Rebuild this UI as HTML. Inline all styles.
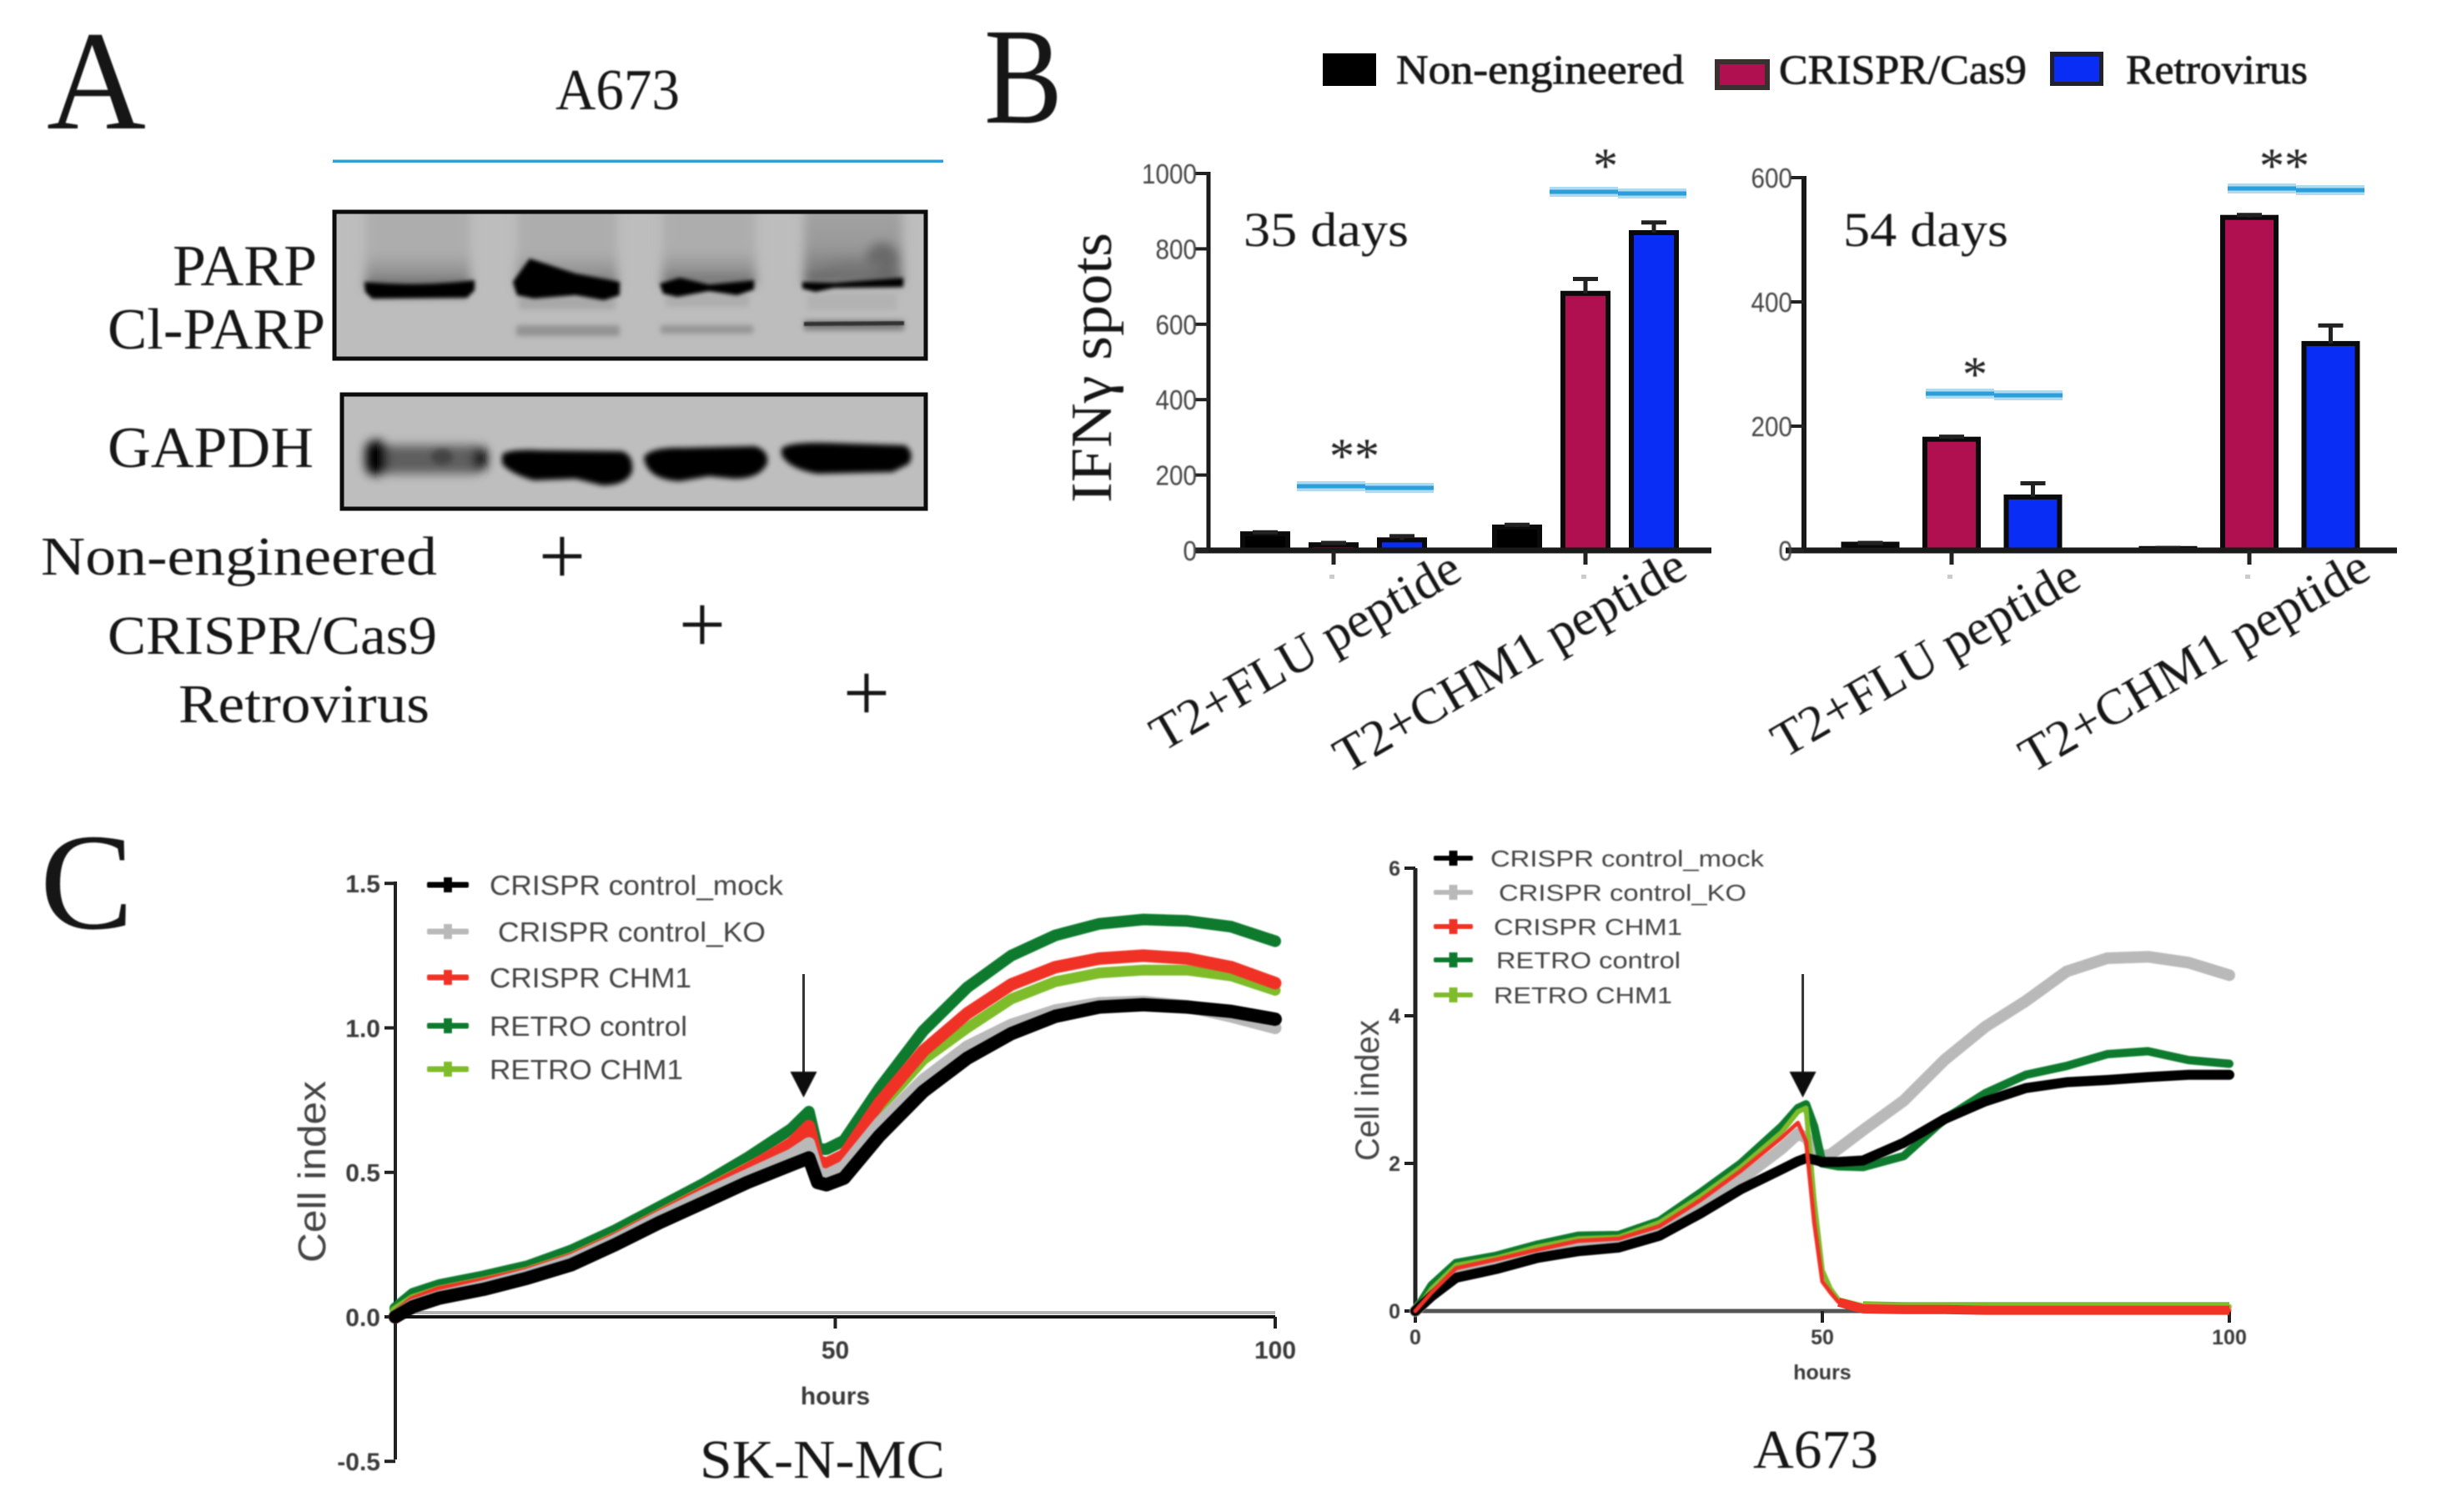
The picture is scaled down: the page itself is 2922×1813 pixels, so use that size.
<!DOCTYPE html>
<html lang="en">
<head>
<meta charset="utf-8">
<title>A673 and SK-N-MC figure</title>
<style>
html,body{margin:0;padding:0;background:#fff;width:2922px;height:1813px;overflow:hidden}
svg{display:block}
.serif{font-family:"Liberation Serif",serif;fill:#141414}
.heavy{stroke:#141414;stroke-width:0.8}
.sans{font-family:"Liberation Sans",sans-serif;fill:#333}
</style>
</head>
<body>
<svg id="figure" xmlns="http://www.w3.org/2000/svg" width="2922" height="1813" viewBox="0 0 2922 1813">
<defs>
<filter id="soft" x="-5%" y="-5%" width="110%" height="110%"><feGaussianBlur stdDeviation="0.9"/></filter>
<filter id="softer" x="-5%" y="-5%" width="110%" height="110%"><feGaussianBlur stdDeviation="1.3"/></filter>
<filter id="band" x="-10%" y="-40%" width="120%" height="180%"><feGaussianBlur stdDeviation="2.4"/></filter>
<filter id="blot" x="-20%" y="-40%" width="140%" height="180%"><feGaussianBlur stdDeviation="3.2"/></filter>
<filter id="blotWide" x="-30%" y="-30%" width="160%" height="160%"><feGaussianBlur stdDeviation="6"/></filter>
<linearGradient id="smear" x1="0" y1="0" x2="0" y2="1"><stop offset="0" stop-color="#adadad"/><stop offset="0.6" stop-color="#adadad"/><stop offset="0.85" stop-color="#8f8f8f"/><stop offset="1" stop-color="#5a5a5a"/></linearGradient>
<linearGradient id="smear4" x1="0" y1="0" x2="0" y2="1"><stop offset="0" stop-color="#a6a6a6"/><stop offset="0.55" stop-color="#999"/><stop offset="0.85" stop-color="#7c7c7c"/><stop offset="1" stop-color="#505050"/></linearGradient>
<clipPath id="parpClip"><rect x="401" y="254" width="709" height="176"/></clipPath>
<clipPath id="gapdhClip"><rect x="410" y="473" width="700" height="137"/></clipPath>
</defs>
<rect x="0" y="0" width="2922" height="1813" fill="#fff"/>

<g>
<g filter="url(#soft)">
<text class="serif" x="56" y="154" font-size="170" textLength="119" lengthAdjust="spacingAndGlyphs">A</text>
<text class="serif" x="666" y="131" font-size="70" textLength="149" lengthAdjust="spacingAndGlyphs">A673</text>
<text class="serif" x="207" y="342" font-size="70" textLength="173" lengthAdjust="spacingAndGlyphs">PARP</text>
<text class="serif" x="129" y="418" font-size="70" textLength="261" lengthAdjust="spacingAndGlyphs">Cl-PARP</text>
<text class="serif" x="129" y="560" font-size="70" textLength="247" lengthAdjust="spacingAndGlyphs">GAPDH</text>
<text class="serif" x="49" y="689" font-size="66" textLength="475" lengthAdjust="spacingAndGlyphs">Non-engineered</text>
<text class="serif" x="129" y="784" font-size="66" textLength="395" lengthAdjust="spacingAndGlyphs">CRISPR/Cas9</text>
<text class="serif" x="214" y="866" font-size="66" textLength="301" lengthAdjust="spacingAndGlyphs">Retrovirus</text>
<text class="serif" x="674" y="700" font-size="100" text-anchor="middle">+</text>
<text class="serif" x="842" y="782" font-size="100" text-anchor="middle">+</text>
<text class="serif" x="1039" y="864" font-size="100" text-anchor="middle">+</text>
</g>
<rect x="399" y="191.5" width="732" height="3.5" fill="#2f9fd8"/>

<g>
<rect x="401" y="254" width="709" height="176" fill="#bdbdbd"/>
<g clip-path="url(#parpClip)">
<g filter="url(#blotWide)">
<rect x="438" y="240" width="126" height="106" fill="url(#smear)"/>
<rect x="620" y="240" width="120" height="106" fill="url(#smear)"/>
<rect x="794" y="240" width="112" height="102" fill="url(#smear)"/>
<rect x="964" y="240" width="118" height="100" fill="url(#smear4)"/>
<ellipse cx="1058" cy="310" rx="20" ry="20" fill="#6a6a6a"/>
<ellipse cx="1020" cy="322" rx="34" ry="10" fill="#777"/>
</g>
<g filter="url(#blot)">
<rect x="622" y="355" width="116" height="16" fill="#a8a8a8"/>
<rect x="798" y="352" width="100" height="16" fill="#adadad"/>
<rect x="445" y="352" width="115" height="9" fill="#a9a9a9"/>
<rect x="968" y="352" width="108" height="20" fill="#b2b2b2"/>
<rect x="619" y="390" width="124" height="13" fill="#939393"/>
<rect x="792" y="390" width="111" height="10" fill="#949494"/>
<rect x="964" y="384" width="120" height="12" fill="#7a7a7a"/>
</g>
<g filter="url(#band)">
<path d="M437 338 Q503 344 569 336 L569 348 L560 357 L446 358 L438 350 Z" fill="#000"/>
<path d="M615 338 L635 310 L690 328 L743 338 L743 354 L724 360 L690 354 L640 358 L620 354 Z" fill="#000"/>
<path d="M791 340 L815 333 L850 341 L904 336 L904 347 L884 354 L850 349 L812 356 L795 352 Z" fill="#000"/>
<path d="M962 338 L1000 339 L1083 333 L1083 344 L1000 345 L978 350 L962 346 Z" fill="#000"/>
</g>
<g filter="url(#soft)">
<path d="M964 386 L1084 385 L1084 390 L964 391 Z" fill="#333"/>
</g>
</g>
<rect x="401" y="254" width="709" height="176" fill="none" stroke="#0c0c0c" stroke-width="5"/>
</g>

<g>
<rect x="410" y="473" width="700" height="137" fill="#bebebe"/>
<g clip-path="url(#gapdhClip)">
<g filter="url(#blotWide)">
<rect x="440" y="534" width="140" height="34" rx="12" fill="#5e5e5e"/>
<rect x="438" y="528" width="26" height="42" rx="12" fill="#000"/>
<rect x="568" y="536" width="16" height="28" rx="8" fill="#000"/>
</g>
<g filter="url(#blot)">
<ellipse cx="530" cy="548" rx="13" ry="9" fill="#444"/>
<path d="M602 545 Q610 538 650 540 L745 541 Q760 545 758 565 Q752 582 722 582 L690 574 L640 576 Q612 568 602 556 Z" fill="#000"/>
<path d="M772 548 Q780 536 820 537 L905 535 Q922 540 920 555 Q912 574 880 574 L850 571 L815 577 Q775 575 772 548 Z" fill="#000"/>
<path d="M937 538 Q945 530 990 531 L1085 534 Q1097 542 1090 556 L1070 566 L980 568 Q945 562 937 545 Z" fill="#000"/>
</g>
</g>
<rect x="410" y="473" width="700" height="137" fill="none" stroke="#0c0c0c" stroke-width="5"/>
</g>
</g>

<g>
<g filter="url(#soft)">
<text class="serif" x="1180" y="147" font-size="165" textLength="94" lengthAdjust="spacingAndGlyphs">B</text>
<text class="serif" transform="translate(1332,603) rotate(-90)" font-size="70" textLength="324" lengthAdjust="spacingAndGlyphs">IFNγ spots</text>
<text class="serif heavy" x="1674" y="100" font-size="50" textLength="345" lengthAdjust="spacingAndGlyphs">Non-engineered</text>
<text class="serif heavy" x="2133" y="100" font-size="50" textLength="297" lengthAdjust="spacingAndGlyphs">CRISPR/Cas9</text>
<text class="serif heavy" x="2549" y="100" font-size="50" textLength="218" lengthAdjust="spacingAndGlyphs">Retrovirus</text>
<text class="serif" x="1491" y="295" font-size="58" textLength="198" lengthAdjust="spacingAndGlyphs">35 days</text>
<text class="serif" x="2210" y="295" font-size="58" textLength="198" lengthAdjust="spacingAndGlyphs">54 days</text>
</g>
<rect x="1586" y="64" width="64" height="39" fill="#000"/>
<g>
<rect x="2056" y="71" width="66" height="37" fill="#3a3030"/>
<rect x="2062" y="77" width="54" height="25" fill="#b0104f"/>
</g>
<g>
<rect x="2458" y="62" width="64" height="41" fill="#22222c"/>
<rect x="2463" y="68" width="54" height="30" fill="#0a2df5"/>
</g>
</g>

<g filter="url(#soft)">
<text class="serif" x="48" y="1113" font-size="165" textLength="112" lengthAdjust="spacingAndGlyphs">C</text>
<text class="serif" x="839" y="1772" font-size="66" textLength="294" lengthAdjust="spacingAndGlyphs">SK-N-MC</text>
<text class="serif" x="2102" y="1760" font-size="66" textLength="150" lengthAdjust="spacingAndGlyphs">A673</text>
</g>

<g id="charts"></g>
</svg>

<script>
/* Panel B data */
const barCategories = ['T2+FLU peptide', 'T2+CHM1  peptide'];
const barSeries = ['non-engineered', 'crispr', 'retrovirus'];
const barColors = ['#000000', '#b0104f', '#0a2df5'];
const day35Ticks = [0, 200, 400, 600, 800, 1000];
const day35NonEngineered = [44, 62];
const day35Crispr = [15, 682];
const day35Retrovirus = [28, 843];
const day35NonEngineeredErr = [48, 68];
const day35CrisprErr = [20, 720];
const day35RetrovirusErr = [38, 870];
const day54Ticks = [0, 200, 400, 600];
const day54NonEngineered = [10, 3];
const day54Crispr = [179, 536];
const day54Retrovirus = [86, 333];
const day54NonEngineeredErr = [12, 4];
const day54CrisprErr = [183, 540];
const day54RetrovirusErr = [108, 362];

/* Panel C data: SK-N-MC */
const skHours = [0,2,5,10,15,20,25,30,35,40,45,47,48,49,51,55,60,65,70,75,80,85,90,95,100];
const skMock = [0,.035,.065,.095,.134,.18,.25,.326,.395,.465,.526,.55,.465,.457,.48,.626,.78,.895,.98,1.04,1.072,1.08,1.072,1.057,1.03];
const skKo = [0,.04,.07,.105,.145,.195,.265,.345,.42,.49,.56,.6,.5,.49,.52,.67,.82,.935,1.01,1.06,1.085,1.09,1.075,1.04,1.0];
const skCrisprChm1 = [0,.05,.085,.115,.15,.2,.27,.35,.43,.51,.6,.66,.54,.53,.56,.74,.92,1.05,1.15,1.21,1.24,1.25,1.24,1.21,1.155];
const skRetroControl = [.03,.08,.11,.14,.175,.23,.3,.38,.46,.55,.65,.71,.58,.58,.61,.79,.99,1.14,1.25,1.32,1.36,1.375,1.37,1.35,1.3];
const skRetroChm1 = [.02,.06,.09,.12,.155,.205,.275,.355,.435,.515,.59,.64,.53,.52,.55,.72,.89,1.0,1.1,1.16,1.19,1.2,1.2,1.18,1.13];
const skYTicks = ['1.5', '1.0', '0.5', '0.0', '-0.5'];
const skXTicks = [50, 100];
const skArrowHour = 46.4;

/* Panel C data: A673 */
const aHours = [0,2,5,10,15,20,25,30,35,40,45,47,48,49,50,51,52,55,60,65,70,75,80,85,90,95,100];
const aMock = [0,.2,.45,.57,.72,.81,.86,1.02,1.32,1.65,1.92,2.03,2.07,2.05,2.02,2.02,2.02,2.04,2.28,2.6,2.84,3.02,3.1,3.13,3.17,3.2,3.2];
const aKo = [0,.22,.55,.65,.78,.9,.93,1.1,1.42,1.78,2.2,2.4,2.35,2.2,2.1,2.12,2.2,2.45,2.85,3.4,3.85,4.2,4.6,4.78,4.8,4.72,4.55];
const aCrisprChm1 = [0,.25,.58,.7,.83,.95,.98,1.15,1.5,1.9,2.35,2.55,2.3,1.2,.4,.25,.12,.03,.02,.02,.01,.01,.01,.01,.01,.01,.01];
const aRetroControl = [0,.35,.65,.75,.9,1.02,1.03,1.22,1.6,2.0,2.5,2.75,2.8,2.5,2.0,1.98,1.96,1.95,2.1,2.6,2.95,3.2,3.32,3.48,3.52,3.4,3.35];
const aRetroChm1 = [0,.3,.62,.72,.87,.98,1.0,1.2,1.55,1.95,2.42,2.7,2.75,1.5,.55,.3,.15,.07,.06,.06,.06,.06,.06,.06,.06,.06,.06];
const aYTicks = [0, 2, 4, 6];
const aXTicks = [0, 50, 100];
const aArrowHour = 47.6;
const legendNames = ['CRISPR control_mock', ' CRISPR control_KO', 'CRISPR CHM1', 'RETRO control', 'RETRO CHM1'];
const legendColors = ['#000000', '#b9b9b9', '#f03325', '#0b7a2e', '#7fbc2a'];

const NS = 'http://www.w3.org/2000/svg';
const root = document.getElementById('charts');
function make(tag, attrs, parent) {
  const e = document.createElementNS(NS, tag);
  for (const k in attrs) e.setAttribute(k, attrs[k]);
  (parent || root).appendChild(e);
  return e;
}

function drawBarChart(cfg) {
  const g = make('g', {});
  
  
  const y = v => cfg.zeroY - (v / cfg.maxV) * (cfg.zeroY - cfg.topY);
  cfg.series.forEach((vals, s) => {
    vals.forEach((v, c) => {
      const cx = cfg.groupX[c] + (s - 1) * cfg.pitch;
      const top = y(v);
      const bar = make('rect', { x: cx - cfg.barW / 2, y: top, width: cfg.barW, height: Math.max(cfg.zeroY - top, 0), fill: barColors[s], stroke: '#0a0a0a', 'stroke-width': 6 }, g);
      
      
      const errTop = y(cfg.errors[s][c]);
      const err = make('path', { d: 'M' + cx + ' ' + top + 'V' + errTop + 'M' + (cx - 15) + ' ' + errTop + 'H' + (cx + 15), stroke: '#222', 'stroke-width': 5, fill: 'none' }, g);
      
      
    });
  });
  const yAxis = make('line', { x1: cfg.axisX, x2: cfg.axisX, y1: cfg.topY - 2, y2: cfg.zeroY, stroke: '#1a1a1a', 'stroke-width': cfg.axisW }, g);
  
  
  const xAxis = make('line', { x1: cfg.xStart, x2: cfg.xEnd, y1: cfg.zeroY, y2: cfg.zeroY, stroke: '#1a1a1a', 'stroke-width': 7 }, g);
  
  
  cfg.ticks.forEach(t => {
    const ty = y(t);
    const tick = make('line', { x1: cfg.axisX - 16, x2: cfg.axisX, y1: ty, y2: ty, stroke: '#222', 'stroke-width': 4 }, g);
    
    
    const lab = make('text', { x: cfg.axisX - 14, y: ty + 12, 'text-anchor': 'end', 'font-size': 33, 'font-family': '"Liberation Sans",sans-serif', fill: '#444', filter: 'url(#soft)', textLength: String(t).length * 16.5, lengthAdjust: 'spacingAndGlyphs' }, g);
    lab.textContent = t;
    
    
  });
  cfg.groupX.forEach((gx, c) => {
    const tick = make('line', { x1: gx, x2: gx, y1: cfg.zeroY, y2: 677, stroke: '#222', 'stroke-width': 5 }, g);
    
    
    const dash = make('rect', { x: gx - 5, y: 689, width: 6, height: 5, fill: '#ccc' }, g);
    
    
    const lab = make('text', { transform: 'translate(' + cfg.labelStart[c][0] + ',' + cfg.labelStart[c][1] + ') rotate(-30)', 'font-size': 60, 'font-family': '"Liberation Serif",serif', fill: '#141414', filter: 'url(#soft)', textLength: cfg.labelLen[c], lengthAdjust: 'spacingAndGlyphs' }, g);
    lab.textContent = barCategories[c];
    
    
  });
  cfg.sig.forEach(sg => {
    [0, 1].forEach(part => {
      const px = sg.x + part * 82;
      const py = sg.y - 1 + part * 2;
      const halo = make('rect', { x: px, y: py - 6, width: 82, height: 12, fill: '#2f9fd8', opacity: 0.38 }, g);
      
      
      const core = make('rect', { x: px, y: py - 2.5, width: 82, height: 5, fill: '#2a9fdc' }, g);
      
      
    });
    const star = make('text', { x: sg.starX, y: sg.starY + 28, 'text-anchor': 'middle', 'font-size': 60, 'font-family': '"Liberation Serif",serif', fill: '#222', filter: 'url(#soft)' }, g);
    star.textContent = sg.label;
    
    
  });
}

drawBarChart({
  name: 'bar-chart-35-days', maxV: 1000, topY: 208, zeroY: 660, axisX: 1449, axisW: 5, xStart: 1433, xEnd: 2052,
  groupX: [1599, 1901], pitch: 82, barW: 54, ticks: day35Ticks,
  series: [day35NonEngineered, day35Crispr, day35Retrovirus],
  errors: [day35NonEngineeredErr, day35CrisprErr, day35RetrovirusErr],
  labelStart: [[1394, 902], [1614, 928]], labelLen: [418, 476],
  sig: [{ x: 1555, y: 584, starX: 1624, starY: 539, label: '**' }, { x: 1858, y: 231, starX: 1925, starY: 191, label: '*' }]
});
drawBarChart({
  name: 'bar-chart-54-days', maxV: 600, topY: 213, zeroY: 660, axisX: 2163, axisW: 6, xStart: 2141, xEnd: 2874,
  groupX: [2340, 2697], pitch: 97.5, barW: 64, ticks: day54Ticks,
  series: [day54NonEngineered, day54Crispr, day54Retrovirus],
  errors: [day54NonEngineeredErr, day54CrisprErr, day54RetrovirusErr],
  labelStart: [[2139, 910], [2436, 928]], labelLen: [415, 473],
  sig: [{ x: 2309, y: 473, starX: 2368, starY: 441, label: '*' }, { x: 2671, y: 227, starX: 2739, starY: 191, label: '**' }]
});

function drawCurveChart(cfg) {
  const g = make('g', {});
  
  
  const x = h => cfg.x0 + h * cfg.xUnit;
  const y = v => cfg.y0 - v * cfg.yUnit;
  const shadow = make('line', { x1: x(0), x2: x(100), y1: cfg.y0 - cfg.shadowOffset, y2: cfg.y0 - cfg.shadowOffset, stroke: '#b5b5b5', 'stroke-width': 4 }, g);
  
  
  const yAxis = make('line', { x1: cfg.x0, x2: cfg.x0, y1: cfg.yAxisTop, y2: cfg.yAxisBottom, stroke: '#222', 'stroke-width': cfg.axisW }, g);
  
  
  const xAxis = make('line', { x1: x(0), x2: x(100), y1: cfg.y0, y2: cfg.y0, stroke: cfg.xAxisColor, 'stroke-width': cfg.axisW }, g);
  
  
  cfg.yTicks.forEach(t => {
    const ty = y(parseFloat(t));
    const tick = make('line', { x1: cfg.x0 - 13, x2: cfg.x0, y1: ty, y2: ty, stroke: '#222', 'stroke-width': 4 }, g);
    
    
    const lab = make('text', { x: cfg.x0 - 18, y: ty + cfg.tickFont * 0.36, 'text-anchor': 'end', 'font-size': cfg.tickFont, 'font-family': '"Liberation Sans",sans-serif', 'font-weight': 'bold', fill: '#3a3a3a', filter: 'url(#soft)' }, g);
    lab.textContent = t;
    
    
  });
  cfg.xTicks.forEach(t => {
    const tick = make('line', { x1: x(t), x2: x(t), y1: cfg.y0, y2: cfg.y0 + 14, stroke: '#222', 'stroke-width': 4 }, g);
    
    
    const lab = make('text', { x: x(t), y: cfg.xLabelY, 'text-anchor': 'middle', 'font-size': cfg.tickFont, 'font-family': '"Liberation Sans",sans-serif', 'font-weight': 'bold', fill: '#3a3a3a', filter: 'url(#soft)' }, g);
    lab.textContent = t;
    
    
  });
  const xTitle = make('text', { x: x(50), y: cfg.xTitleY, 'text-anchor': 'middle', 'font-size': cfg.tickFont, 'font-family': '"Liberation Sans",sans-serif', 'font-weight': 'bold', fill: '#3a3a3a', filter: 'url(#soft)' }, g);
  xTitle.textContent = 'hours';
  
  
  const yTitle = make('text', { transform: 'translate(' + cfg.yTitle[0] + ',' + cfg.yTitle[1] + ') rotate(-90)', 'font-size': cfg.yTitle[3], 'font-family': '"Liberation Sans",sans-serif', fill: '#444', filter: 'url(#soft)', textLength: cfg.yTitle[2], lengthAdjust: 'spacingAndGlyphs' }, g);
  yTitle.textContent = 'Cell index';
  
  
  cfg.curves.forEach(c => {
    const pts = c.values.map((v, i) => x(cfg.hours[i]) + ',' + y(v)).join(' ');
    const line = make('polyline', { points: pts, fill: 'none', stroke: legendColors[c.color], 'stroke-width': c.width, 'stroke-linejoin': 'round', 'stroke-linecap': 'round', filter: 'url(#soft)' }, g);
    
    
    if (c.tailFrom !== undefined) {
      const tailPts = c.values.map((v, i) => [cfg.hours[i], v]).filter(p => p[0] >= c.tailFrom).map(p => x(p[0]) + ',' + y(p[1])).join(' ');
      const tail = make('polyline', { points: tailPts, fill: 'none', stroke: legendColors[c.color], 'stroke-width': c.tailWidth, 'stroke-linecap': 'butt' }, g);
      
      
    }
  });
  legendNames.forEach((n, i) => {
    const ly = cfg.legendY[i];
    const ln = make('rect', { x: cfg.legendX[0], y: ly - cfg.legendW / 2, width: cfg.legendX[1] - cfg.legendX[0], height: cfg.legendW, rx: 2, fill: legendColors[i], filter: 'url(#soft)' }, g);
    
    
    const mk = make('rect', { x: (cfg.legendX[0] + cfg.legendX[1]) / 2 - 5, y: ly - 9, width: 10, height: 18, fill: legendColors[i], filter: 'url(#soft)' }, g);
    
    
    const lab = make('text', { x: cfg.legendText[i][0], y: ly + cfg.legendFont * 0.36, 'font-size': cfg.legendFont, 'font-family': '"Liberation Sans",sans-serif', fill: '#444', filter: 'url(#soft)', textLength: cfg.legendText[i][1], lengthAdjust: 'spacingAndGlyphs' }, g);
    lab.textContent = n.trim();
    
    
  });
  const ax = x(cfg.arrowHour);
  const shaft = make('rect', { x: ax - 1.5, y: 1168, width: 3, height: 122, fill: '#333' }, g);
  
  
  const head = make('path', { d: 'M' + (ax - 16) + ' 1285H' + (ax + 16) + 'L' + ax + ' 1316Z', fill: '#0a0a0a', filter: 'url(#soft)' }, g);
  
  
}

drawCurveChart({
  name: 'sk-n-mc-growth-chart', x0: 474, xUnit: 10.55, y0: 1579, yUnit: 346.5, arrowHour: skArrowHour,
  yAxisTop: 1057, yAxisBottom: 1750, axisW: 4, xAxisColor: '#111', shadowOffset: 5,
  yTicks: skYTicks, xTicks: skXTicks, tickFont: 30, xLabelY: 1629, xTitleY: 1684,
  yTitle: [390, 1514, 218, 46], hours: skHours,
  curves: [
    { id: 'retro-control', values: skRetroControl, color: 3, width: 14 },
    { id: 'retro-chm1', values: skRetroChm1, color: 4, width: 13 },
    { id: 'crispr-chm1', values: skCrisprChm1, color: 2, width: 15 },
    { id: 'crispr-control-ko', values: skKo, color: 1, width: 15 },
    { id: 'crispr-control-mock', values: skMock, color: 0, width: 16 }
  ],
  legendX: [512, 562], legendY: [1061, 1117, 1172, 1230, 1282], legendW: 7, legendFont: 33,
  legendText: [[587, 352], [597, 321], [587, 242], [587, 237], [587, 232]]
});
drawCurveChart({
  name: 'a673-growth-chart', x0: 1697, xUnit: 9.76, y0: 1572, yUnit: 88.5, arrowHour: aArrowHour,
  yAxisTop: 1041, yAxisBottom: 1572, axisW: 5, xAxisColor: '#555', shadowOffset: 0,
  yTicks: aYTicks, xTicks: aXTicks, tickFont: 25, xLabelY: 1612, xTitleY: 1654,
  yTitle: [1653, 1392, 169, 40], hours: aHours,
  curves: [
    { id: 'crispr-control-ko', values: aKo, color: 1, width: 14 },
    { id: 'retro-control', values: aRetroControl, color: 3, width: 10 },
    { id: 'retro-chm1', values: aRetroChm1, color: 4, width: 6, tailFrom: 55, tailWidth: 11 },
    { id: 'crispr-control-mock', values: aMock, color: 0, width: 12 },
    { id: 'crispr-chm1', values: aCrisprChm1, color: 2, width: 5, tailFrom: 52, tailWidth: 11 }
  ],
  legendX: [1719, 1766], legendY: [1029, 1070, 1111, 1151, 1193], legendW: 6, legendFont: 28,
  legendText: [[1787, 328], [1797, 297], [1791, 226], [1794, 221], [1791, 214]]
});
</script>
</body>
</html>
